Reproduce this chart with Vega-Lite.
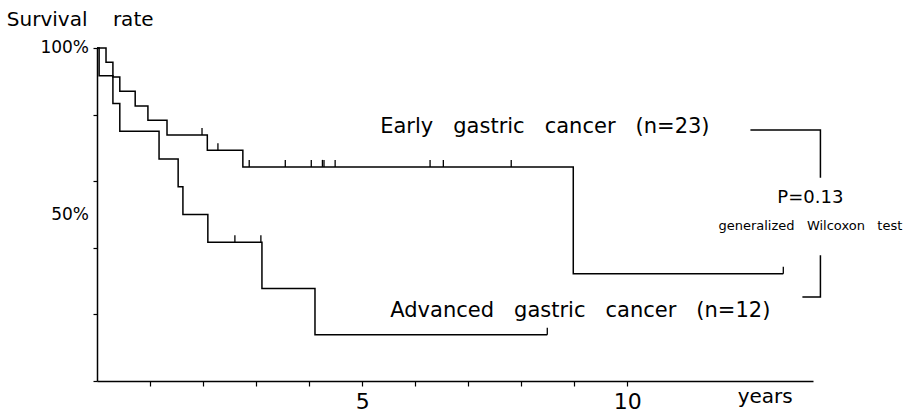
{
  "$schema": "https://vega.github.io/schema/vega-lite/v6.json",
  "width": 716,
  "height": 333,
  "autosize": {"type": "none"},
  "padding": {"left": 97, "top": 48, "right": 96, "bottom": 33},
  "background": "white",
  "config": {"view": {"stroke": null}, "font": "DejaVu Sans", "text": {"font": "DejaVu Sans", "color": "black"}},
  "datasets": {
    "curves": [
      {"group": "Early", "t": 0, "s": 1.0},
      {"group": "Early", "t": 0.17, "s": 0.957},
      {"group": "Early", "t": 0.30, "s": 0.913},
      {"group": "Early", "t": 0.43, "s": 0.870},
      {"group": "Early", "t": 0.72, "s": 0.826},
      {"group": "Early", "t": 0.96, "s": 0.783},
      {"group": "Early", "t": 1.32, "s": 0.739},
      {"group": "Early", "t": 2.08, "s": 0.693},
      {"group": "Early", "t": 2.75, "s": 0.643},
      {"group": "Early", "t": 8.98, "s": 0.322},
      {"group": "Early", "t": 12.94, "s": 0.322},
      {"group": "Advanced", "t": 0, "s": 1.0},
      {"group": "Advanced", "t": 0.04, "s": 0.917},
      {"group": "Advanced", "t": 0.30, "s": 0.833},
      {"group": "Advanced", "t": 0.43, "s": 0.75},
      {"group": "Advanced", "t": 1.17, "s": 0.667},
      {"group": "Advanced", "t": 1.53, "s": 0.583},
      {"group": "Advanced", "t": 1.62, "s": 0.5},
      {"group": "Advanced", "t": 2.09, "s": 0.417},
      {"group": "Advanced", "t": 3.11, "s": 0.278},
      {"group": "Advanced", "t": 4.11, "s": 0.139},
      {"group": "Advanced", "t": 8.49, "s": 0.139}
    ],
    "censors": [
      {"group": "Early", "t": 1.98, "s": 0.739},
      {"group": "Early", "t": 2.28, "s": 0.693},
      {"group": "Early", "t": 2.87, "s": 0.643},
      {"group": "Early", "t": 3.55, "s": 0.643},
      {"group": "Early", "t": 4.04, "s": 0.643},
      {"group": "Early", "t": 4.25, "s": 0.643},
      {"group": "Early", "t": 4.28, "s": 0.643},
      {"group": "Early", "t": 4.49, "s": 0.643},
      {"group": "Early", "t": 6.28, "s": 0.643},
      {"group": "Early", "t": 6.53, "s": 0.643},
      {"group": "Early", "t": 7.81, "s": 0.643},
      {"group": "Early", "t": 12.94, "s": 0.322},
      {"group": "Advanced", "t": 2.60, "s": 0.417},
      {"group": "Advanced", "t": 3.09, "s": 0.417},
      {"group": "Advanced", "t": 8.49, "s": 0.139}
    ],
    "brackets": [
      {"id": "upper", "o": 1, "t": 12.32, "s": 0.754},
      {"id": "upper", "o": 2, "t": 13.64, "s": 0.754},
      {"id": "upper", "o": 3, "t": 13.64, "s": 0.610},
      {"id": "lower", "o": 1, "t": 13.64, "s": 0.378},
      {"id": "lower", "o": 2, "t": 13.64, "s": 0.252},
      {"id": "lower", "o": 3, "t": 13.30, "s": 0.252}
    ],
    "yticks": [
      {"s": 0.5, "label": "50%"},
      {"s": 1.0, "label": "100%"}
    ]
  },
  "layer": [
    {
      "data": {"name": "curves"},
      "mark": {"type": "line", "interpolate": "step-after", "color": "black", "strokeWidth": 1.5},
      "encoding": {
        "x": {
          "field": "t", "type": "quantitative",
          "scale": {"domain": [0, 13.5], "nice": false, "zero": false},
          "axis": {
            "title": null, "grid": false,
            "values": [1, 2, 3, 4, 5, 6, 7, 8, 9, 10],
            "tickSize": 5, "tickColor": "black", "tickWidth": 1.2,
            "domainColor": "black", "domainWidth": 1.5,
            "labelExpr": "datum.value == 5 || datum.value == 10 ? datum.label : ''",
            "labelFontSize": 22, "labelColor": "black", "labelPadding": 5,
            "labelOverlap": false, "labelFont": "DejaVu Sans"
          }
        },
        "y": {
          "field": "s", "type": "quantitative",
          "scale": {"domain": [0, 1], "nice": false},
          "axis": {
            "title": null, "grid": false,
            "values": [0, 0.1, 0.2, 0.3, 0.4, 0.5, 0.6, 0.7, 0.8, 0.9, 1],
            "tickSize": 4, "tickColor": "black", "tickWidth": 1.2,
            "domainColor": "black", "domainWidth": 1.5,
            "labels": false
          }
        },
        "detail": {"field": "group", "type": "nominal"}
      }
    },
    {
      "data": {"name": "yticks"},
      "mark": {"type": "text", "align": "right", "baseline": "middle", "fontSize": 17, "dx": -8},
      "encoding": {
        "x": {"datum": 0},
        "y": {"field": "s", "type": "quantitative"},
        "text": {"field": "label"}
      }
    },
    {
      "data": {"name": "censors"},
      "mark": {"type": "point", "shape": "M0,-1L0,0", "size": 196, "filled": false, "color": "black", "strokeWidth": 1.3, "opacity": 1},
      "encoding": {
        "x": {"field": "t", "type": "quantitative"},
        "y": {"field": "s", "type": "quantitative"}
      }
    },
    {
      "data": {"name": "brackets"},
      "mark": {"type": "line", "color": "black", "strokeWidth": 1.5},
      "encoding": {
        "x": {"field": "t", "type": "quantitative"},
        "y": {"field": "s", "type": "quantitative"},
        "detail": {"field": "id", "type": "nominal"},
        "order": {"field": "o", "type": "quantitative"}
      }
    },
    {
      "data": {"values": [{}]},
      "mark": {"type": "text", "text": "Survival\u00a0\u00a0\u00a0\u00a0rate", "align": "left", "baseline": "alphabetic", "fontSize": 20},
      "encoding": {"x": {"datum": -1.70}, "y": {"datum": 1.066}}
    },
    {
      "data": {"values": [{}]},
      "mark": {"type": "text", "text": "Early\u00a0\u00a0\u00a0gastric\u00a0\u00a0\u00a0cancer\u00a0\u00a0\u00a0(n=23)", "align": "left", "baseline": "alphabetic", "fontSize": 21},
      "encoding": {"x": {"datum": 5.34}, "y": {"datum": 0.745}}
    },
    {
      "data": {"values": [{}]},
      "mark": {"type": "text", "text": "Advanced\u00a0\u00a0\u00a0gastric\u00a0\u00a0\u00a0cancer\u00a0\u00a0\u00a0(n=12)", "align": "left", "baseline": "alphabetic", "fontSize": 21},
      "encoding": {"x": {"datum": 5.53}, "y": {"datum": 0.192}}
    },
    {
      "data": {"values": [{}]},
      "mark": {"type": "text", "text": "P=0.13", "align": "center", "baseline": "alphabetic", "fontSize": 18},
      "encoding": {"x": {"datum": 13.45}, "y": {"datum": 0.535}}
    },
    {
      "data": {"values": [{}]},
      "mark": {"type": "text", "text": "generalized\u00a0\u00a0\u00a0Wilcoxon\u00a0\u00a0\u00a0test", "align": "center", "baseline": "alphabetic", "fontSize": 13},
      "encoding": {"x": {"datum": 13.45}, "y": {"datum": 0.453}}
    },
    {
      "data": {"values": [{}]},
      "mark": {"type": "text", "text": "years", "align": "left", "baseline": "alphabetic", "fontSize": 20},
      "encoding": {"x": {"datum": 12.08}, "y": {"datum": -0.066}}
    }
  ]
}
